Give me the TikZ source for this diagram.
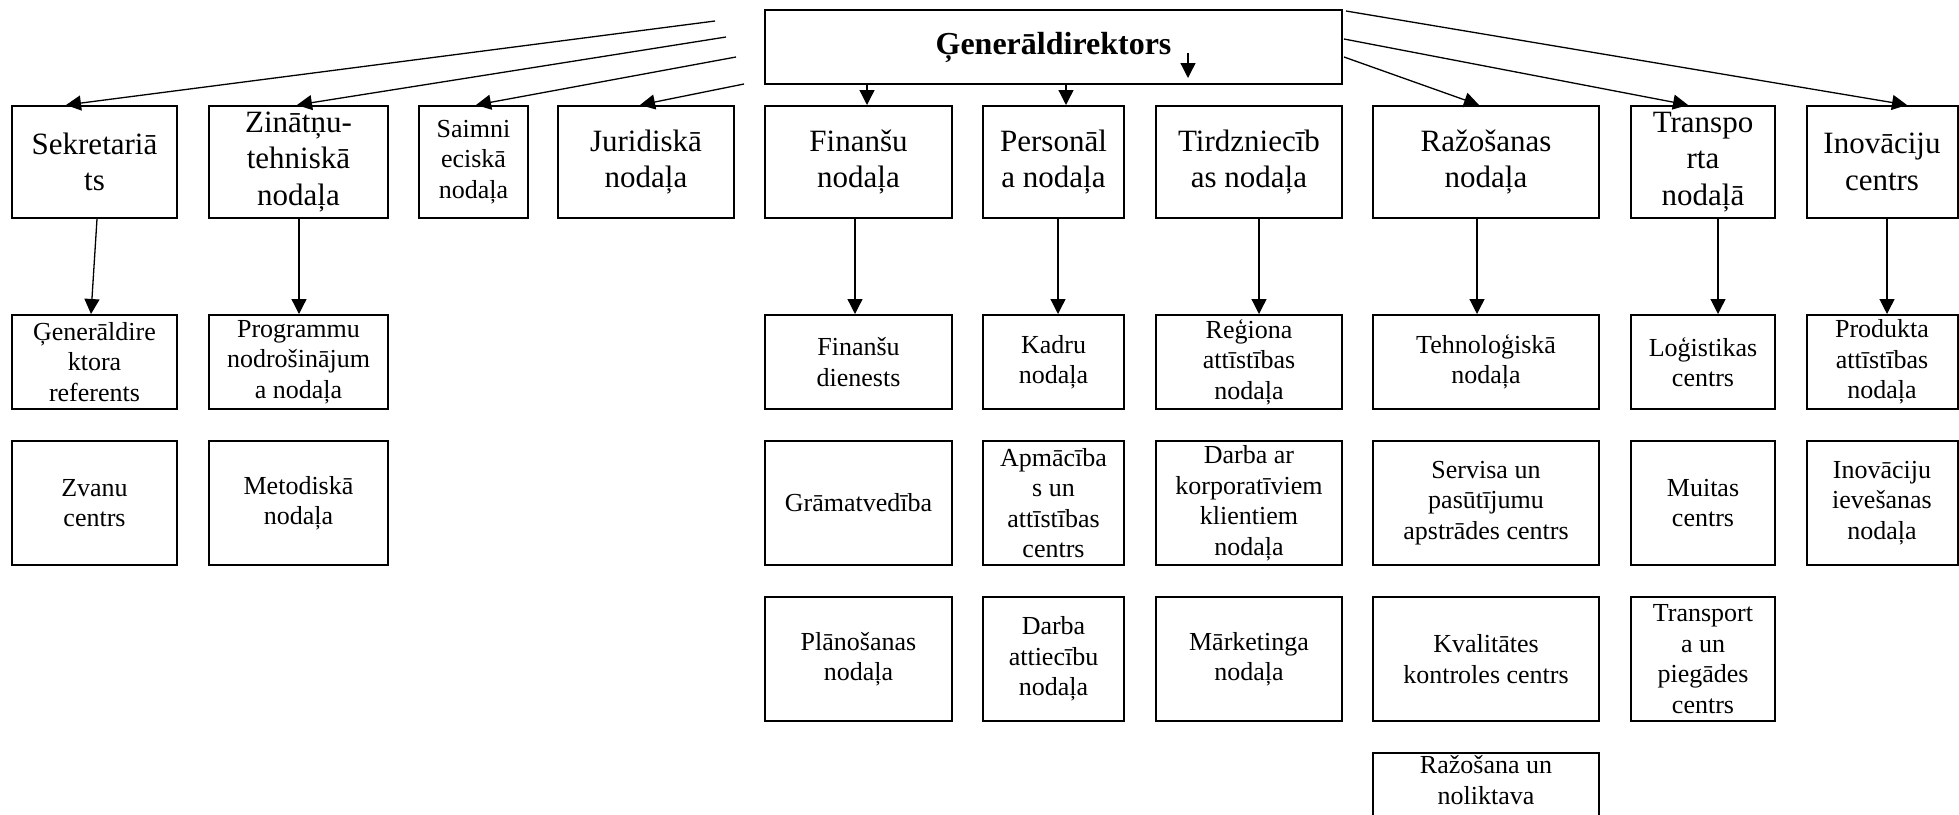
\documentclass[tikz,border=0pt]{standalone}
\usepackage{fontspec}
\setmainfont{Liberation Serif}
\usetikzlibrary{arrows.meta,calc}
\begin{document}
\begin{tikzpicture}[x=1pt,y=-1pt,
  box/.style={draw,line width=2pt,align=center,inner sep=0pt},
  big/.style={box,font=\fontsize{31}{36.5}\selectfont,minimum height=112},
  small/.style={box,font=\fontsize{26}{30.5}\selectfont},
  arr/.style={line width=1.3pt,-{Triangle[length=15pt,width=15pt]}}]
\useasboundingbox (0,0) rectangle (1959,814);
\clip (0,0) rectangle (1959,814);

\node[box,font=\bfseries\fontsize{32}{36}\selectfont,minimum width=577,minimum height=74] (boss) at (1053.5,47) {Ģenerāldirektors};

\node[big,minimum width=165] (sek) at (94.5,162) {Sekretariā\\ts};
\node[big,minimum width=179] (zin) at (298.5,162) {Zinātņu-\\tehniskā\\nodaļa};
\node[small,minimum width=109,minimum height=112] (saim) at (473.5,162) {Saimni\\eciskā\\nodaļa};
\node[big,minimum width=176] (jur) at (646,162) {Juridiskā\\nodaļa};
\node[big,minimum width=187] (fin) at (858.5,162) {Finanšu\\nodaļa};
\node[big,minimum width=141] (pers) at (1053.5,162) {Personāl\\a nodaļa};
\node[big,minimum width=186] (tir) at (1249,162) {Tirdzniecīb\\as nodaļa};
\node[big,minimum width=226] (raz) at (1486,162) {Ražošanas\\nodaļa};
\node[big,minimum width=144] (tra) at (1703,162) {Transpo\\rta\\nodaļā};
\node[big,minimum width=151] (ino) at (1882,162) {Inovāciju\\centrs};

\node[small,minimum width=165,minimum height=94] (ger) at (94.5,362) {Ģenerāldire\\ktora\\referents};
\node[small,minimum width=179,minimum height=94] (prog) at (298.5,362) {Programmu\\nodrošinājum\\a nodaļa};
\node[small,minimum width=187,minimum height=94] (findi) at (858.5,362) {Finanšu\\dienests};
\node[small,minimum width=141,minimum height=94] (kadr) at (1053.5,362) {Kadru\\nodaļa};
\node[small,minimum width=186,minimum height=94] (reg) at (1249,362) {Reģiona\\attīstības\\nodaļa};
\node[small,minimum width=226,minimum height=94] (teh) at (1486,362) {Tehnoloģiskā\\nodaļa};
\node[small,minimum width=144,minimum height=94] (log) at (1703,362) {Loģistikas\\centrs};
\node[small,minimum width=151,minimum height=94] (prod) at (1882,362) {Produkta\\attīstības\\nodaļa};

\node[small,minimum width=165,minimum height=124] (zva) at (94.5,503) {Zvanu\\centrs};
\node[small,minimum width=179,minimum height=124] (met) at (298.5,503) {Metodiskā\\nodaļa};
\node[small,minimum width=187,minimum height=124] (gra) at (858.5,503) {Grāmatvedība};
\node[small,minimum width=141,minimum height=124] (apm) at (1053.5,503) {Apmācība\\s un\\attīstības\\centrs};
\node[small,minimum width=186,minimum height=124] (korp) at (1249,503) {Darba ar\\korporatīviem\\klientiem\\nodaļa};
\node[small,minimum width=226,minimum height=124] (serv) at (1486,503) {Servisa un\\pasūtījumu\\apstrādes centrs};
\node[small,minimum width=144,minimum height=124] (mui) at (1703,503) {Muitas\\centrs};
\node[small,minimum width=151,minimum height=124] (iev) at (1882,503) {Inovāciju\\ievešanas\\nodaļa};

\node[small,minimum width=187,minimum height=124] (plan) at (858.5,659) {Plānošanas\\nodaļa};
\node[small,minimum width=141,minimum height=124] (datt) at (1053.5,659) {Darba\\attiecību\\nodaļa};
\node[small,minimum width=186,minimum height=124] (mark) at (1249,659) {Mārketinga\\nodaļa};
\node[small,minimum width=226,minimum height=124] (kval) at (1486,659) {Kvalitātes\\kontroles centrs};
\node[small,minimum width=144,minimum height=124] (tpieg) at (1703,659) {Transport\\a un\\piegādes\\centrs};

\node[small,minimum width=226,minimum height=124] (nol) at (1486,815) {};
\node[align=center,inner sep=0pt,font=\fontsize{26}{30.5}\selectfont] (noltxt) at (1486,780) {Ražošana un\\noliktava};

\coordinate (l1) at (715,21);
\coordinate (l2) at (726,37);
\coordinate (l3) at (736,57);
\coordinate (l4) at (744,84);
\coordinate (s1) at (1188,53);
\coordinate (s2) at (1188,78);

\draw[arr] (l1) -- ($(sek.north)+(-28.5,0)$);
\draw[arr] (l2) -- ($(zin.north)+(-1.5,0)$);
\draw[arr] (l3) -- ($(saim.north)+(2.5,0)$);
\draw[arr] (l4) -- ($(jur.north)+(-6,0)$);
\draw[arr] ($(boss.north east)+(3,2)$) -- ($(ino.north)+(25,0)$);
\draw[arr] ($(boss.east)+(1,-8)$) -- ($(tra.north)+(-15,0)$);
\draw[arr] ($(boss.east)+(1,10)$) -- ($(raz.north)+(-7,0)$);
\draw[arr] ($(boss.south)+(-186.5,0)$) -- ($(fin.north)+(8.5,0)$);
\draw[arr] ($(boss.south)+(12.5,0)$) -- ($(pers.north)+(12.5,0)$);
\draw[arr] (s1) -- (s2);

\foreach \a/\b/\da/\db in {sek/ger/2.5/-3.5,zin/prog/0.5/0.5,fin/findi/-3.5/-3.5,pers/kadr/4.5/4.5,
  tir/reg/10/10,raz/teh/-9/-9,tra/log/15/15,ino/prod/5/5} {
  \draw[arr] ($(\a.south)+(\da,0)$) -- ($(\b.north)+(\db,0)$);
}
\end{tikzpicture}
\end{document}
